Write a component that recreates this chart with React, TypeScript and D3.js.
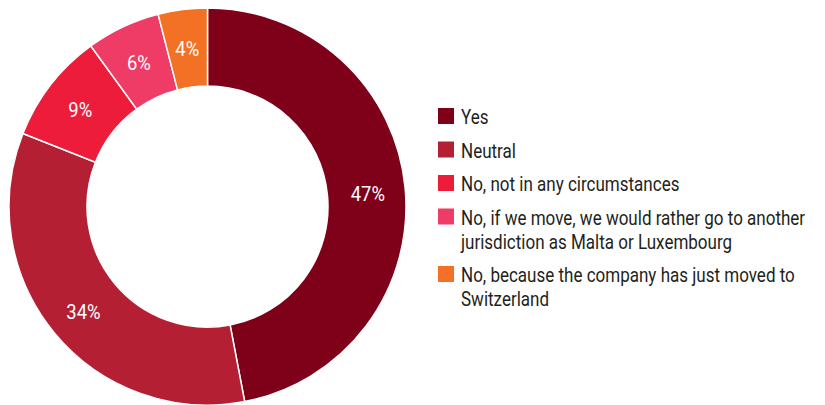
import React from "react";
import * as d3 from "d3";

const categories = [
  "Yes",
  "Neutral",
  "No, not in any circumstances",
  "No, if we move, we would rather go to another jurisdiction as Malta or Luxembourg",
  "No, because the company has just moved to Switzerland",
];
const legendLines = [
  ["Yes"],
  ["Neutral"],
  ["No, not in any circumstances"],
  ["No, if we move, we would rather go to another", "jurisdiction as Malta or Luxembourg"],
  ["No, because the company has just moved to", "Switzerland"],
];
const values = [47, 34, 9, 6, 4];
const colors = ["#7e0019", "#b51f34", "#ec1c3a", "#ef3c66", "#f37125"];

const W = 825;
const H = 405;
const cx = 207.5;
const cy = 206.6;
const outerR = 198.5;
const innerR = 120.5;
const labelR = 161;
const FONT = "Roboto, 'Liberation Sans', Arial, sans-serif";
const SX = 0.83;
const LSX = 0.88;

export default function App() {
  const pie = d3.pie<number>().sort(null).value((d) => d)(values);
  const arc = d3.arc<d3.PieArcDatum<number>>().innerRadius(innerR).outerRadius(outerR);
  const labelArc = d3.arc<d3.PieArcDatum<number>>().innerRadius(labelR).outerRadius(labelR);

  const legendX = 438;
  const legendTop = 108;
  const sq = 16;
  const itemGap = 33.5;
  const lineH = 24;
  let y = legendTop;
  const legendItems = legendLines.map((lines, i) => {
    const top = y;
    y += itemGap + (lines.length - 1) * lineH;
    return { lines, top, color: colors[i], key: categories[i] };
  });

  return (
    <div style={{ position: "fixed", left: 0, top: 0 }}>
      <svg width={W} height={H} style={{ display: "block", background: "#fff" }}>
        <g transform={`translate(${cx},${cy})`}>
          {pie.map((p, i) => (
            <path key={i} d={arc(p) || ""} fill={colors[i]} stroke="#fff" strokeWidth={1.5} />
          ))}
          {pie.map((p, i) => {
            const [lx, ly] = labelArc.centroid(p);
            return (
              <text
                key={"l" + i}
                transform={`translate(${lx},${ly + 2}) scale(${LSX},1)`}
                textAnchor="middle"
                dy="0.35em"
                fill="#fff"
                fontFamily={FONT}
                fontSize={21}
              >
                {values[i]}%
              </text>
            );
          })}
        </g>
        <g>
          {legendItems.map((it, i) => (
            <g key={i}>
              <rect x={legendX} y={it.top} width={sq} height={sq} fill={it.color} />
              {it.lines.map((ln, j) => (
                <text
                  key={j}
                  transform={`translate(${legendX + 23},${it.top + sq + j * lineH}) scale(${SX},1)`}
                  fill="#231f20"
                  fontFamily={FONT}
                  fontSize={20.5}
                >
                  {ln}
                </text>
              ))}
            </g>
          ))}
        </g>
      </svg>
    </div>
  );
}
